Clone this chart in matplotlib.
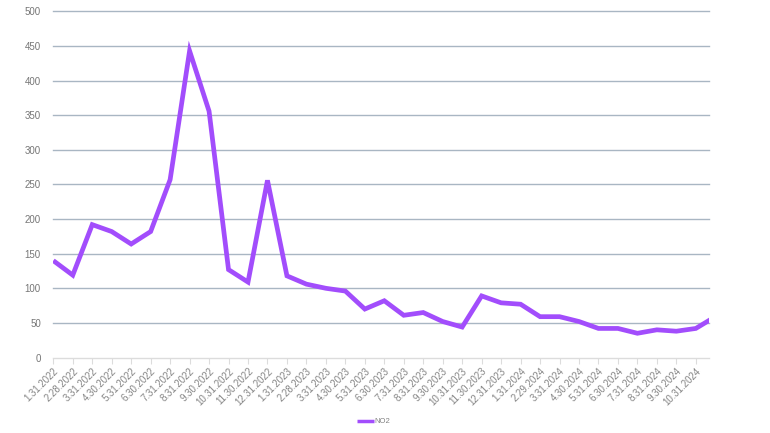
import matplotlib
matplotlib.use("Agg")
import matplotlib.pyplot as plt

plt.rcParams['font.family'] = ['Liberation Sans', 'DejaVu Sans']

dates = ["1.31.2022", "2.28.2022", "3.31.2022", "4.30.2022", "5.31.2022", "6.30.2022",
         "7.31.2022", "8.31.2022", "9.30.2022", "10.31.2022", "11.30.2022", "12.31.2022",
         "1.31.2023", "2.28.2023", "3.31.2023", "4.30.2023", "5.31.2023", "6.30.2023",
         "7.31.2023", "8.31.2023", "9.30.2023", "10.31.2023", "11.30.2023", "12.31.2023",
         "1.31.2024", "2.29.2024", "3.31.2024", "4.30.2024", "5.31.2024", "6.30.2024",
         "7.31.2024", "8.31.2024", "9.30.2024", "10.31.2024", "11.30.2024"]
no2 = [140, 119, 192, 182, 164, 182, 257, 443, 356, 127, 109, 256,
       118, 106, 100, 96, 70, 82, 61, 65, 52, 44, 89, 79,
       77, 59, 59, 52, 42, 42, 35, 40, 38, 42, 59]
yticks = [0, 50, 100, 150, 200, 250, 300, 350, 400, 450, 500]

fig = plt.figure(figsize=(7.7, 4.33), dpi=100)
ax = fig.add_axes([53.3/770, 1-357.5/433, (709.3-53.3)/770, 346/433])

x = list(range(len(dates)))
line, = ax.plot(x, no2, color='#a24dfc', linewidth=3.4, solid_joinstyle='miter',
                solid_capstyle='butt', label='NO2', zorder=3)

ax.set_yticks(yticks)
ax.set_yticklabels([str(v) for v in yticks])
ax.set_xticks(x)
ax.set_xticklabels(dates, rotation=45, ha='right', va='top', rotation_mode='anchor')
ax.set_xlim(0, 656/19.47)
ax.set_ylim(0, 500)

for v in yticks[1:]:
    ax.axhline(v, color='#a9b6c3', linewidth=1.0, zorder=1, clip_on=False)
for s in ['top', 'right', 'left']:
    ax.spines[s].set_visible(False)
ax.spines['bottom'].set_color('#dcdcdc')
ax.spines['bottom'].set_linewidth(1.0)

ax.tick_params(axis='y', length=0, pad=9, labelsize=7, labelcolor='#767676')
ax.tick_params(axis='x', length=4, width=0.8, color='#dcdcdc', pad=2,
               labelsize=7, labelcolor='#858585')

leg = fig.legend(handles=[line], labels=['NO2'], loc='center',
                 bbox_to_anchor=(0.485, 0.026), frameon=False, fontsize=5.5,
                 handlelength=2.2, handletextpad=0.1)
for t in leg.get_texts():
    t.set_color('#808080')
leg.get_lines()[0].set_linewidth(2.5)

fig.savefig('out.png', dpi=100)
